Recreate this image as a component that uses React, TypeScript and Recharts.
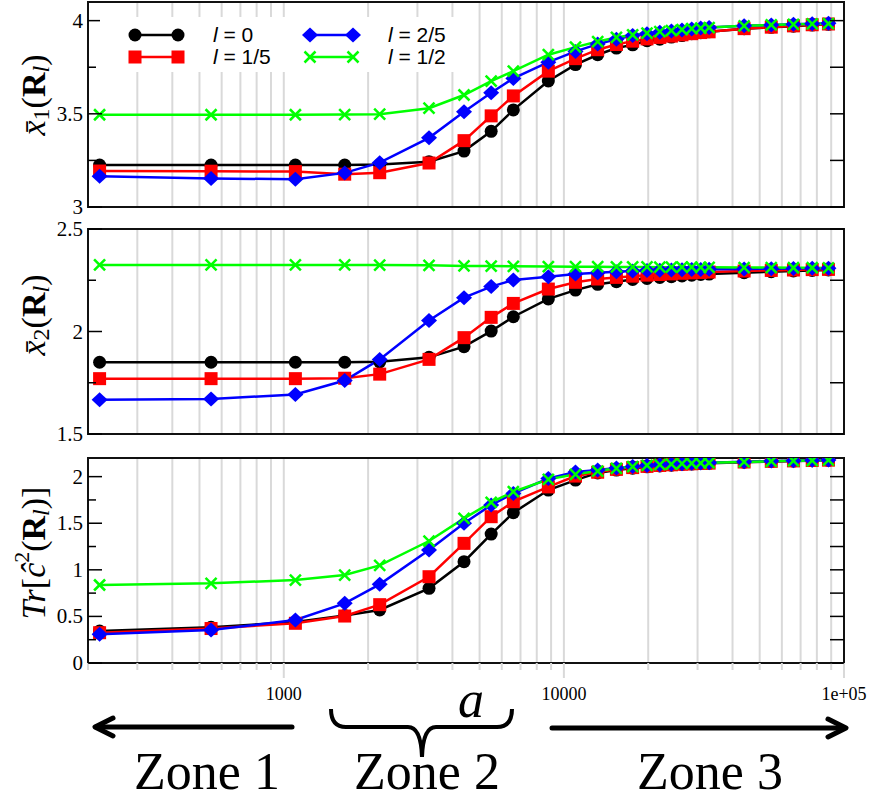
import React from 'react';
import { LineChart, Line, XAxis, YAxis, CartesianGrid, ReferenceArea, Legend } from 'recharts';

// system sizes R (multiples of 1100)
const xValues = [
  220, 550, 1100, 1650, 2200, 3300, 4400, 5500, 6600, 8800, 11000, 13200, 15400,
  17600, 19800, 22000, 24200, 26400, 28600, 30800, 33000, 44000, 55000, 66000, 77000, 88000,
];

const gridTicks = [
  200, 300, 400, 500, 600, 700, 800, 900,
  1000, 2000, 3000, 4000, 5000, 6000, 7000, 8000, 9000,
  10000, 20000, 30000, 40000, 50000, 60000, 70000, 80000, 90000, 100000,
];
const xLabelTicks = [1000, 10000, 100000];
const xLabels = ['1000', '10000', '1e+05'];

const seriesKeys = ['l0', 'l15', 'l25', 'l12'];
const seriesLabels = ['0', '1/5', '2/5', '1/2'];
const seriesColors = ['#000000', '#ff0000', '#0000ff', '#00ff00'];
const seriesShapes = ['circle', 'square', 'diamond', 'cross'];

// top panel: x1 bar
const x1L0 = [3.225, 3.225, 3.225, 3.225, 3.228, 3.243, 3.3, 3.406, 3.521, 3.676, 3.764, 3.817, 3.853, 3.87, 3.892, 3.9, 3.912, 3.92, 3.93, 3.935, 3.94, 3.957, 3.964, 3.97, 3.976, 3.98];
const x1L15 = [3.193, 3.192, 3.19, 3.176, 3.184, 3.236, 3.356, 3.489, 3.596, 3.729, 3.796, 3.844, 3.872, 3.89, 3.902, 3.91, 3.917, 3.924, 3.93, 3.936, 3.94, 3.957, 3.965, 3.972, 3.978, 3.982];
const x1L25 = [3.165, 3.153, 3.149, 3.183, 3.238, 3.371, 3.511, 3.613, 3.69, 3.777, 3.835, 3.874, 3.9, 3.92, 3.93, 3.938, 3.945, 3.95, 3.955, 3.96, 3.963, 3.972, 3.977, 3.98, 3.983, 3.986];
const x1L12 = [3.495, 3.495, 3.495, 3.496, 3.498, 3.53, 3.601, 3.676, 3.729, 3.817, 3.858, 3.888, 3.91, 3.924, 3.933, 3.941, 3.946, 3.952, 3.957, 3.96, 3.963, 3.972, 3.977, 3.98, 3.982, 3.984];

// middle panel: x2 bar
const x2L0 = [1.85, 1.85, 1.85, 1.85, 1.852, 1.874, 1.926, 2.002, 2.072, 2.159, 2.202, 2.23, 2.243, 2.254, 2.259, 2.264, 2.267, 2.271, 2.275, 2.278, 2.28, 2.287, 2.292, 2.295, 2.298, 2.3];
const x2L15 = [1.77, 1.77, 1.77, 1.772, 1.792, 1.864, 1.97, 2.069, 2.137, 2.207, 2.24, 2.256, 2.264, 2.27, 2.275, 2.278, 2.281, 2.284, 2.286, 2.288, 2.29, 2.295, 2.298, 2.3, 2.302, 2.303];
const x2L25 = [1.667, 1.671, 1.693, 1.761, 1.864, 2.054, 2.165, 2.219, 2.251, 2.267, 2.28, 2.287, 2.292, 2.295, 2.297, 2.299, 2.3, 2.301, 2.302, 2.303, 2.304, 2.305, 2.306, 2.307, 2.308, 2.309];
const x2L12 = [2.325, 2.325, 2.325, 2.325, 2.324, 2.323, 2.32, 2.319, 2.318, 2.317, 2.316, 2.316, 2.315, 2.315, 2.315, 2.314, 2.314, 2.314, 2.314, 2.313, 2.313, 2.312, 2.312, 2.311, 2.311, 2.31];

// bottom panel: Tr[c^2]
const trL0 = [0.343, 0.383, 0.44, 0.51, 0.569, 0.801, 1.087, 1.384, 1.613, 1.856, 1.963, 2.04, 2.07, 2.09, 2.105, 2.115, 2.123, 2.13, 2.135, 2.14, 2.143, 2.155, 2.162, 2.167, 2.171, 2.175];
const trL15 = [0.325, 0.37, 0.426, 0.504, 0.626, 0.926, 1.284, 1.57, 1.731, 1.89, 2.006, 2.047, 2.078, 2.097, 2.11, 2.12, 2.127, 2.133, 2.138, 2.142, 2.145, 2.157, 2.164, 2.169, 2.173, 2.177];
const trL25 = [0.308, 0.354, 0.461, 0.64, 0.844, 1.212, 1.499, 1.695, 1.82, 1.98, 2.05, 2.07, 2.092, 2.108, 2.12, 2.128, 2.134, 2.139, 2.143, 2.146, 2.149, 2.16, 2.167, 2.171, 2.175, 2.178];
const trL12 = [0.837, 0.855, 0.89, 0.944, 1.048, 1.309, 1.552, 1.724, 1.838, 1.971, 2.025, 2.06, 2.089, 2.108, 2.12, 2.128, 2.134, 2.139, 2.143, 2.146, 2.149, 2.158, 2.165, 2.17, 2.173, 2.176];

const buildRows = (cols: number[][]) =>
  xValues.map((x, i) => {
    const row: any = { x };
    seriesKeys.forEach((k, j) => (row[k] = cols[j][i]));
    return row;
  });

const SERIF = '"Liberation Serif", "DejaVu Serif", serif';
const SANS = '"Liberation Sans", Arial, sans-serif';
const GRID = '#d9d9d9';
const PLOT_H = 205;

const Marker = ({ shape, cx, cy, color }: any) => {
  if (cx == null || cy == null) return null;
  if (shape === 'circle') return <circle cx={cx} cy={cy} r={6.5} fill={color} />;
  if (shape === 'square') return <rect x={cx - 6.5} y={cy - 6.5} width={13} height={13} fill={color} />;
  if (shape === 'diamond')
    return <polygon points={`${cx},${cy - 7.5} ${cx + 8},${cy} ${cx},${cy + 7.5} ${cx - 8},${cy}`} fill={color} />;
  return (
    <g stroke={color} strokeWidth={2.5}>
      <line x1={cx - 5.5} y1={cy - 5.5} x2={cx + 5.5} y2={cy + 5.5} />
      <line x1={cx - 5.5} y1={cy + 5.5} x2={cx + 5.5} y2={cy - 5.5} />
    </g>
  );
};

const LegendBox = () => (
  <div style={{ position: 'relative', width: 365, height: 55, background: '#fff', fontFamily: SANS, fontSize: 21 }}>
    {seriesKeys.map((k, i) => {
      const col = Math.floor(i / 2);
      const row = i % 2;
      const left = 27 + col * 175;
      const top = 6 + row * 22;
      return (
        <div key={k}>
          <svg style={{ position: 'absolute', left, top }} width={60} height={24}>
            <line x1={8} x2={51} y1={12} y2={12} stroke={seriesColors[i]} strokeWidth={2.5} />
            <Marker shape={seriesShapes[i]} cx={8} cy={12} color={seriesColors[i]} />
            <Marker shape={seriesShapes[i]} cx={51} cy={12} color={seriesColors[i]} />
          </svg>
          <div style={{ position: 'absolute', left: left + 86, top: top, lineHeight: '24px', whiteSpace: 'nowrap' }}>
            <i>l</i> = {seriesLabels[i]}
          </div>
        </div>
      );
    })}
  </div>
);

const LeftTick = ({ x, y, payload, majors }: any) => {
  const v = payload.value;
  const major = majors.includes(v);
  return (
    <g>
      <line x1={x} x2={x + (major ? 14 : 8)} y1={y} y2={y} stroke="#000" strokeWidth={1.5} />
      {major && (
        <text x={x - 5} y={y} dy={7} textAnchor="end" fontFamily={SERIF} fontSize={21} fill="#000">
          {v}
        </text>
      )}
    </g>
  );
};

const RightTick = ({ x, y }: any) => (
  <line x1={x - 14} x2={x} y1={y} y2={y} stroke="#000" strokeWidth={1.5} />
);

const NoTick = () => <g />;

const BottomTick = ({ x, y, payload }: any) => {
  const idx = xLabelTicks.indexOf(payload.value);
  return (
    <g>
      <line x1={x} x2={x} y1={y} y2={y + (idx >= 0 ? 15 : 7)} stroke={GRID} strokeWidth={2} />
      {idx >= 0 && (
        <text x={x} y={y + 37} textAnchor="middle" fontFamily={SERIF} fontSize={18} fill="#000">
          {xLabels[idx]}
        </text>
      )}
    </g>
  );
};

const TitleX1 = () => (
  <>
    <tspan fontStyle="italic">x̄</tspan>
    <tspan fontSize={24} dy={8}>1</tspan>
    <tspan dy={-8}>(</tspan>
    <tspan fontWeight="bold">R</tspan>
    <tspan fontSize={24} fontStyle="italic" dy={8}>l</tspan>
    <tspan dy={-8}>)</tspan>
  </>
);
const TitleX2 = () => (
  <>
    <tspan fontStyle="italic">x̄</tspan>
    <tspan fontSize={24} dy={8}>2</tspan>
    <tspan dy={-8}>(</tspan>
    <tspan fontWeight="bold">R</tspan>
    <tspan fontSize={24} fontStyle="italic" dy={8}>l</tspan>
    <tspan dy={-8}>)</tspan>
  </>
);
const TitleTr = () => (
  <>
    <tspan fontStyle="italic">Tr</tspan>
    <tspan>[</tspan>
    <tspan fontStyle="italic">ĉ</tspan>
    <tspan fontSize={22} dy={-12}>2</tspan>
    <tspan dy={12}>(</tspan>
    <tspan fontWeight="bold">R</tspan>
    <tspan fontSize={24} fontStyle="italic" dy={8}>l</tspan>
    <tspan dy={-8}>)]</tspan>
  </>
);

// plotTop: page y of the plot frame's top edge
const panels = [
  {
    id: 'x1', data: buildRows([x1L0, x1L15, x1L25, x1L12]), domain: [3, 4.1],
    ticks: [3, 3.25, 3.5, 3.75, 4], majors: [3, 3.5, 4], Title: TitleX1, titleY: 95,
    top: 0, plotTop: 2, height: 222, legend: true, xAxis: false,
  },
  {
    id: 'x2', data: buildRows([x2L0, x2L15, x2L25, x2L12]), domain: [1.5, 2.5],
    ticks: [1.5, 1.75, 2, 2.25, 2.5], majors: [1.5, 2, 2.5], Title: TitleX2, titleY: 315,
    top: 209, plotTop: 229, height: 240, legend: false, xAxis: true && false,
  },
  {
    id: 'tr', data: buildRows([trL0, trL15, trL25, trL12]), domain: [0, 2.2],
    ticks: [0, 0.25, 0.5, 0.75, 1, 1.25, 1.5, 1.75, 2], majors: [0, 0.5, 1, 1.5, 2], Title: TitleTr, titleY: 553,
    top: 436, plotTop: 458, height: 272, legend: false, xAxis: true,
  },
];

const Panel = ({ p }: any) => {
  const marginTop = p.plotTop - p.top;
  const xAxisH = p.xAxis ? 45 : 0;
  const marginBottom = p.height - marginTop - PLOT_H - xAxisH;
  return (
    <div style={{ position: 'absolute', left: 0, top: p.top }}>
      <LineChart
        width={875}
        height={p.height}
        data={p.data}
        margin={{ top: marginTop, right: 0, left: 0, bottom: marginBottom }}
      >
        <CartesianGrid vertical horizontal={false} stroke={GRID} strokeWidth={2} />
        <XAxis
          dataKey="x"
          type="number"
          scale="log"
          domain={[200, 100000]}
          ticks={gridTicks}
          interval={0}
          allowDataOverflow
          axisLine={false}
          tickLine={false}
          tickSize={0}
          tickMargin={0}
          height={xAxisH}
          tick={p.xAxis ? <BottomTick /> : <NoTick />}
        />
        <YAxis
          type="number"
          domain={p.domain}
          ticks={p.ticks}
          interval={0}
          allowDataOverflow
          width={88}
          axisLine={false}
          tickLine={false}
          tickSize={0}
          tickMargin={0}
          tick={<LeftTick majors={p.majors} />}
          label={{
            content: () => (
              <text
                x={33}
                y={p.titleY - p.top}
                transform={`rotate(-90 33 ${p.titleY - p.top})`}
                textAnchor="middle"
                dominantBaseline="central"
                fontFamily={SERIF}
                fontSize={34}
                fill="#000"
              >
                <p.Title />
              </text>
            ),
          }}
        />
        <YAxis
          yAxisId="right"
          orientation="right"
          type="number"
          domain={p.domain}
          ticks={p.ticks}
          interval={0}
          allowDataOverflow
          width={31}
          axisLine={false}
          tickLine={false}
          tickSize={0}
          tickMargin={0}
          tick={<RightTick />}
        />
        <ReferenceArea
          x1={200}
          x2={100000}
          y1={p.domain[0]}
          y2={p.domain[1]}
          fill="none"
          stroke="#111"
          strokeWidth={2}
          ifOverflow="visible"
        />
        {seriesKeys.map((k, i) => (
          <Line
            key={k}
            dataKey={k}
            name={`l = ${seriesLabels[i]}`}
            stroke={seriesColors[i]}
            strokeWidth={2.5}
            isAnimationActive={false}
            activeDot={false}
            dot={(d: any) => (
              <Marker key={`${k}-${d.index}`} shape={seriesShapes[i]} cx={d.cx} cy={d.cy} color={seriesColors[i]} />
            )}
          />
        ))}
        {p.legend && (
          <Legend
            layout="vertical"
            align="center"
            verticalAlign="middle"
            wrapperStyle={{ top: 17, left: 100, width: 365, height: 55 }}
            content={<LegendBox />}
          />
        )}
      </LineChart>
    </div>
  );
};

const Annotations = () => (
  <svg
    width={875}
    height={134}
    style={{ position: 'absolute', left: 0, top: 665, pointerEvents: 'none' }}
    viewBox="0 665 875 134"
  >
    <g stroke="#000" strokeWidth={5} fill="none" strokeLinecap="round" strokeLinejoin="round">
      <line x1={96} y1={727} x2={292} y2={727} />
      <polyline points="113,718 95,727 113,736" />
      <line x1={552} y1={728} x2={844} y2={728} />
      <polyline points="828,719 846,728 828,737" />
    </g>
    <path
      d="M331,709 Q331,727 346,727 L408,727 Q421,727 422,757 Q423,727 436,727 L497,727 Q512,727 512,709"
      stroke="#000"
      strokeWidth={4}
      fill="none"
    />
    <text x={471} y={717} textAnchor="middle" fontFamily={SERIF} fontStyle="italic" fontSize={52}>
      a
    </text>
    <g fontFamily={SERIF} fontSize={52} textAnchor="middle" fill="#000">
      <text x={207} y={789}>Zone 1</text>
      <text x={427} y={789}>Zone 2</text>
      <text x={710} y={789}>Zone 3</text>
    </g>
  </svg>
);

export default function App() {
  return (
    <div style={{ position: 'absolute', left: 0, top: 0, width: 875, height: 799, background: '#fff' }}>
      {panels.map((p) => (
        <Panel key={p.id} p={p} />
      ))}
      <Annotations />
    </div>
  );
}
